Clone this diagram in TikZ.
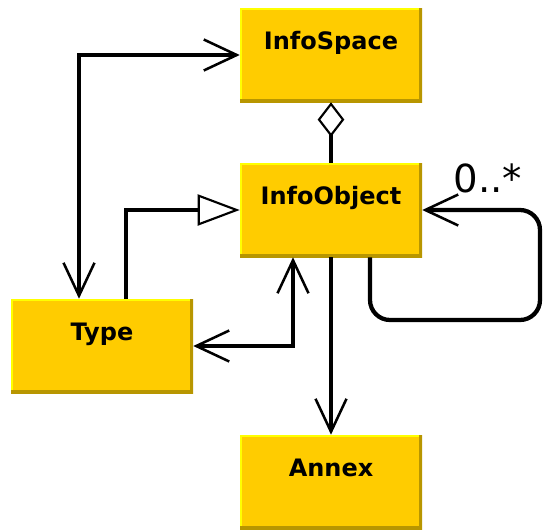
\documentclass[tikz,border=0pt]{standalone}
\usepackage{fontspec}
\setmainfont{DejaVu Sans}
\usepackage{tikz}
\usetikzlibrary{positioning, arrows.meta, calc}
\definecolor{umlfill}{HTML}{FFCC00}
\definecolor{umllight}{HTML}{FFFF00}
\definecolor{umldark}{HTML}{B89600}
\tikzset{C/.style={fill=umlfill, font=\fontsize{18}{20}\bfseries, minimum width=136.5pt, inner sep=0pt, text height=31pt, text depth=39.5pt,
    path picture={\draw[umllight, line width=3pt] (path picture bounding box.south west) -- (path picture bounding box.north west) -- (path picture bounding box.north east);
      \draw[umldark, line width=4.5pt] (path picture bounding box.north east) -- (path picture bounding box.south east) -- (path picture bounding box.south west);}}}
\tikzset{L/.style={draw, line width=3.2pt}}
\tikzset{V/.tip={Straight Barb[length=24.75pt, width=23.25pt, line width=1.9pt]}}
\tikzset{G/.tip={Triangle[open, fill=white, length=31.5pt, width=23.25pt, line width=1.6pt]}}
\tikzset{D/.tip={Diamond[open, fill=white, length=26pt, width=20pt, line width=1.6pt]}}
\tikzset{M/.style={font=\fontsize{29}{32}\selectfont, inner sep=0pt}}
\begin{document}
\begin{tikzpicture}[x=0.75pt, y=-0.75pt, node distance=100pt and 100pt, on grid]
        \useasboundingbox (0,0) rectangle (543,529);
        %% Classes
        \node[C] (space) at (331,55) {InfoSpace};
        \node[C,below=116.25pt of space] (object) {InfoObject};
        \node[C,below left=102pt and 171.75pt of object] (type) {Type};
        \node[C,below=204pt of object] (annex) {Annex};
        %% Free ends
        \coordinate (typeup) at ($(type.north)+(-23,0)$);
        \coordinate (gen) at ($(type.north)+(24,0)$);
        \coordinate (objdown) at ($(object.south)+(-38,0)$);
        \coordinate (loopstart) at ($(object.south)+(39,0)$);
        \coordinate (loopcorner) at (540,320);
        %% Edges
        \draw[L,V-V] (space.west) -| (typeup);
        \draw[L,-D] (object.north) -- (space.south);
        \draw[L,-G] (gen) |- (object.west);
        \draw[L,V-V] (type.east) -| (objdown);
        \draw[L,-V] (object.south) -- (annex.north);
        \draw[L,-V,rounded corners=15pt] (loopstart) |- (loopcorner) |- (object.east);
        \node[M] (mult) at (488,178) {0..*};
\end{tikzpicture}
\end{document}
